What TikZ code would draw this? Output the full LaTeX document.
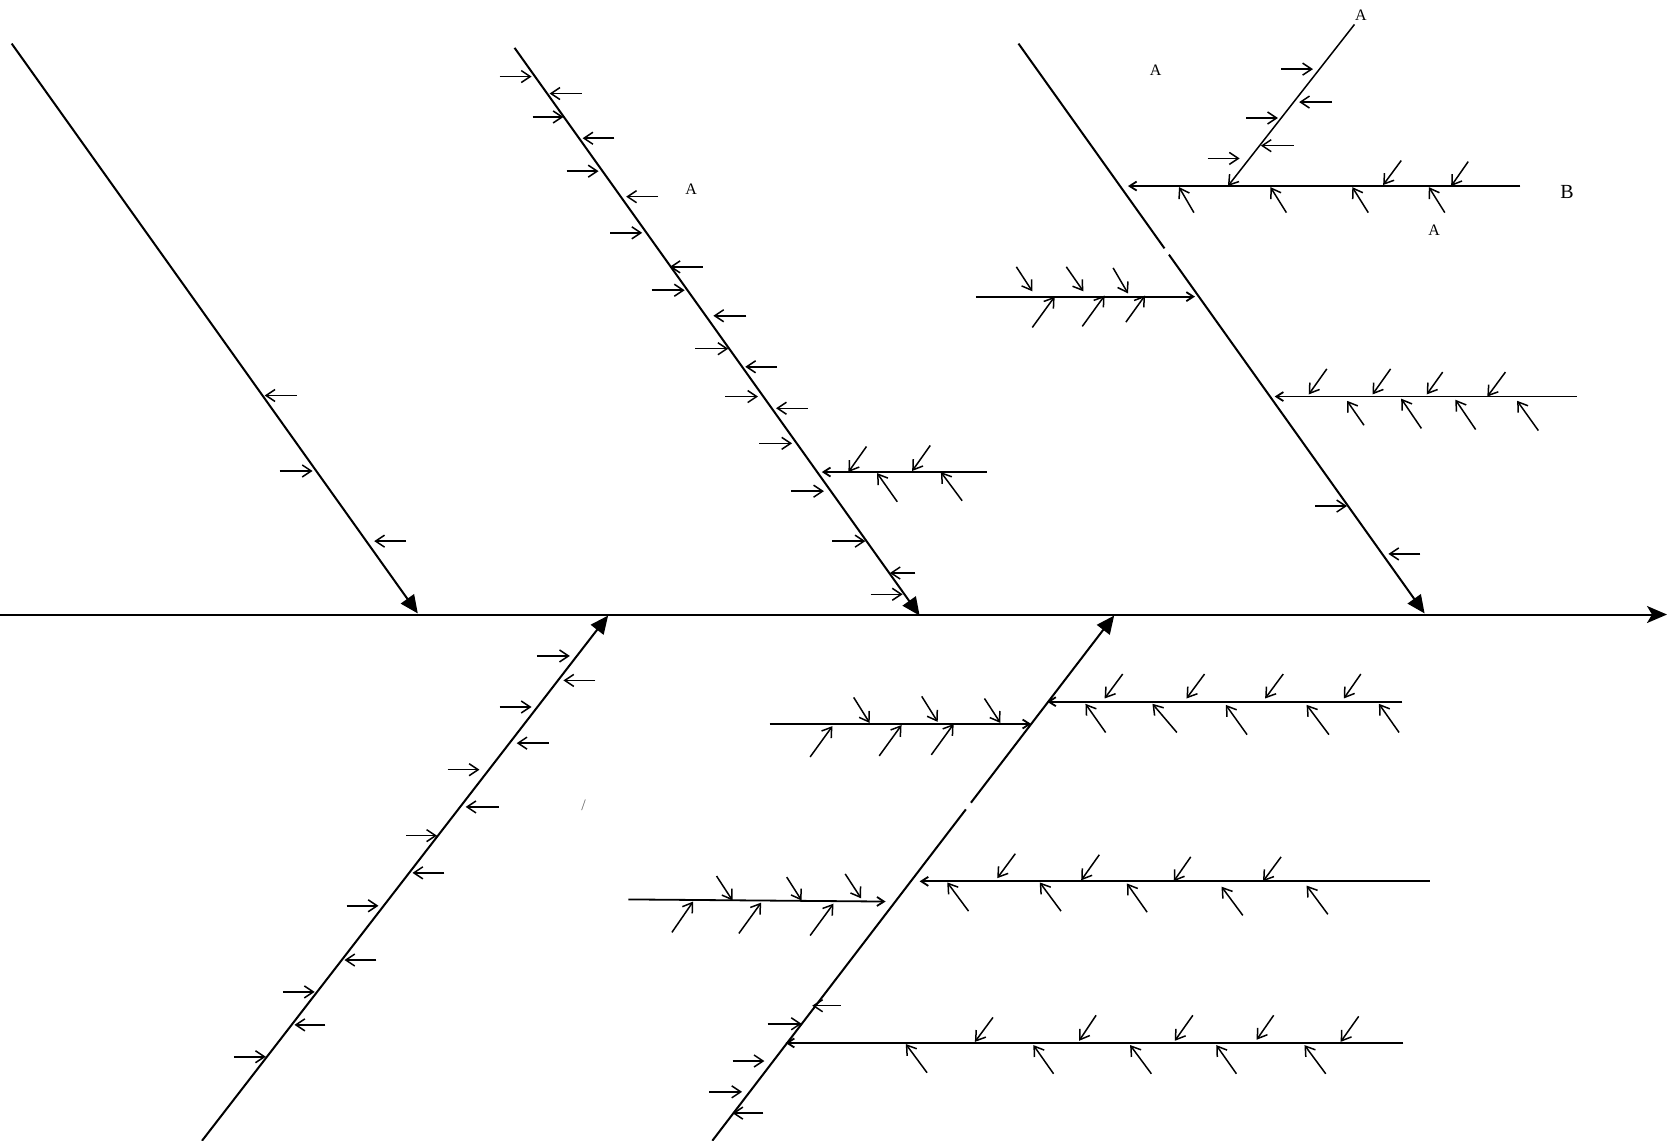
\documentclass[tikz,border=0pt]{standalone}
\usepackage{fontspec}
\setmainfont{Liberation Serif}
\usetikzlibrary{arrows.meta}
\begin{document}
\begin{tikzpicture}[x=0.5316pt,y=-0.5316pt,
  bone/.style={line width=1pt,-{Triangle[length=9pt,width=8pt]}},
  plainbone/.style={line width=1pt},
  spine/.style={line width=1pt,-{Stealth[length=10pt,width=8.5pt,inset=2.5pt]}},
  sa/.style={line width=0.75pt,-{Straight Barb[length=4.5pt,width=6pt]}},
  br/.style={line width=0.9pt,-{Straight Barb[length=3.5pt,width=4.5pt]}},
  lab/.style={font=\fontsize{8}{9}\selectfont,inner sep=0pt},
  labbig/.style={font=\fontsize{10}{12}\selectfont,inner sep=0pt}]
\useasboundingbox (0,0) rectangle (1568,1073);
% spine
\coordinate (S0) at (0,578); \coordinate (S1) at (1568,578);
\draw[spine] (S0) -- (S1);
% main bones
\coordinate (B1a) at (11,41);   \coordinate (B1b) at (393,577);
\coordinate (B2a) at (484,45);  \coordinate (B2b) at (865,579);
\coordinate (B3a) at (958,41);  \coordinate (B3g1) at (1095.3,233.6);
\coordinate (B3g2) at (1099.5,239.5); \coordinate (B3b) at (1340,577);
\coordinate (B4a) at (190,1073); \coordinate (B4b) at (572,579);
\coordinate (B5a) at (670,1073); \coordinate (B5g1) at (908.5,761.3);
\coordinate (B5g2) at (913.3,755); \coordinate (B5b) at (1048,579);
\draw[bone] (B1a) -- (B1b);
\draw[bone] (B2a) -- (B2b);
\draw[plainbone] (B3a) -- (B3g1);
\draw[bone] (B3g2) -- (B3b);
\draw[plainbone] (B5a) -- (B5g1);
\draw[bone] (B5g2) -- (B5b);
\draw[bone] (B4a) -- (B4b);
% branch lines
\coordinate (H1a) at (1430,175); \coordinate (H1b) at (1061,175);
\coordinate (Da) at (1274,23);   \coordinate (Db) at (1155,175);
\coordinate (H2a) at (918,279);  \coordinate (H2b) at (1124,279);
\coordinate (H3a) at (1483,373); \coordinate (H3b) at (1199,373);
\coordinate (H4a) at (928,444);  \coordinate (H4b) at (773,444);
\coordinate (K1a) at (1319,660); \coordinate (K1b) at (985,660);
\coordinate (K2a) at (724,681);  \coordinate (K2b) at (970,681);
\coordinate (K3a) at (1345,829); \coordinate (K3b) at (865,829);
\coordinate (K4a) at (591,846);  \coordinate (K4b) at (833,848);
\coordinate (K5a) at (1320,981); \coordinate (K5b) at (739,981);
\foreach \p in {H1,H2,H3,H4,K1,K2,K3,K4,K5} \draw[br] (\p a) -- (\p b);
\draw[sa] (Da) -- (Db);
% horizontal small arrows on bones: y / start x / tip x
\foreach \y/\s/\t in {
  372/279/249, 443/263/294, 509/382/352,
  72/470/500, 88/547/517, 110/501/530, 130/578/548, 161/533/563,
  185/619/589, 219/574/604, 251/661/630, 273/613/644, 297/702/671,
  328/654/685, 345/731/701, 373/682/713, 384/760/730, 417/714/745,
  462/744/775, 509/783/814, 539/861/837, 559/819/849,
  476/1237/1267, 521/1336/1306,
  65/1205/1235, 96/1253/1222, 111/1172/1202, 137/1217/1186, 149/1136/1166,
  617/505/536, 640/560/530, 665/470/500, 699/516/486, 724/421/451,
  759/469/438, 786/382/411, 821/418/388, 852/326/356, 903/354/324,
  933/266/296, 964/306/277, 994/220/250,
  946/791/764, 963/722/754, 998/689/719, 1027/667/698, 1047/718/689}
  \draw[sa] (\s,\y) -- (\t,\y);
% slanted small arrows on branches
\foreach \a/\b/\c/\d in {
  1123/200/1109/176, 1210/200/1195/176, 1287/200/1272/176, 1359/200/1344/176,
  1318/151/1301/174, 1381/152/1365/175,
  956/251/971/274, 1003/251/1019/274, 1047/252/1061/276,
  971/308/992/279, 1018/307/1039/278, 1059/303/1077/278,
  1248/347/1231/371, 1308/347/1291/371, 1357/350/1342/371, 1416/350/1399/373,
  1283/400/1267/377, 1337/403/1318/375, 1388/404/1369/376, 1447/405/1427/377,
  815/420/798/444, 875/419/858/443, 844/472/825/445, 905/471/885/444,
  1056/634/1039/657, 1133/634/1116/657, 1207/634/1190/657, 1280/634/1264/657,
  1040/689/1021/662, 1107/689/1084/662, 1173/691/1153/663, 1250/691/1229/663,
  1316/689/1297/662,
  803/656/818/680, 867/655/882/679, 926/657/941/680,
  762/712/783/683, 827/711/848/682, 876/710/897/681,
  955/803/938/826, 1034/804/1017/828, 1120/806/1104/829, 1205/806/1188/829,
  911/857/891/830, 998/857/978/830, 1079/858/1060/831, 1169/861/1149/834,
  1249/860/1229/833,
  674/824/689/847, 740/825/754/847, 795/822/810/845,
  632/877/652/848, 695/878/716/849, 762/880/784/850,
  934/957/917/980, 1031/955/1015/979, 1122/955/1105/979, 1198/955/1182/978,
  1278/956/1261/980,
  872/1009/852/982, 991/1010/972/983, 1083/1010/1063/983, 1163/1010/1144/983,
  1247/1010/1227/983}
  \draw[sa] (\a,\b) -- (\c,\d);
% labels
\node[lab] (LA1) at (1280,14) {A};
\node[lab] (LA2) at (1087,66) {A};
\node[lab] (LA3) at (650,178) {A};
\node[labbig] (LB) at (1474,181) {B};
\node[lab] (LA4) at (1349,217) {A};
\node[font=\fontsize{8}{9}\selectfont,text=black!60,inner sep=0pt] (SL) at (549,757) {/};
\end{tikzpicture}
\end{document}
